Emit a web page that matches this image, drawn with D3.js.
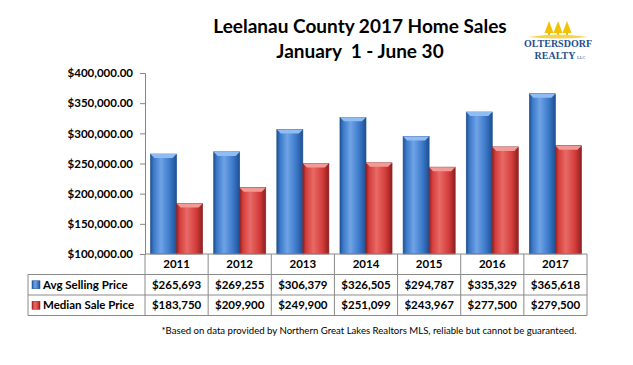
<!DOCTYPE html>
<html><head><meta charset="utf-8">
<script src="https://cdn.jsdelivr.net/npm/d3@7"></script>
<style>body{margin:0;background:#fff}svg{display:block}</style>
</head><body>
<svg id="c" width="633" height="365"></svg>
<script>
const years = ["2011","2012","2013","2014","2015","2016","2017"];
const avgSelling = [265693,269255,306379,326505,294787,335329,365618];
const medianSale = [183750,209900,249900,251099,243967,277500,279500];
const seriesNames = ["Avg Selling Price","Median Sale Price"];
const yTicks = [100000,150000,200000,250000,300000,350000,400000];
const titleLines = ["Leelanau County 2017 Home Sales","January  1 - June 30"];
const footnote = "*Based on data provided by Northern Great Lakes Realtors MLS, reliable but cannot be guaranteed.";

const svg = d3.select("#c");
const font = "Lato, 'Open Sans', sans-serif";
const L = 145, R = 587, T = 73, B = 254;
const x = d3.scaleBand().domain(years).range([L, R]).paddingInner(0.175).paddingOuter(0.0875);
const xb = d3.scaleBand().domain(years).range([L, R]);
const xs = d3.scaleBand().domain([0,1]).range([0, x.bandwidth()]);
const y = d3.scaleLinear().domain([100000,400000]).range([B, T]);

const defs = svg.append("defs");
const pal = [{base:"#3a78c8", dark:"#1f4f91", light:"#6fa3e6", top:"#8fbcf2"},
             {base:"#d43d3b", dark:"#8e2020", light:"#e86a66", top:"#f29a96"}];
pal.forEach((p,i)=>{
  const g = defs.append("linearGradient").attr("id","g"+i).attr("x1","0").attr("x2","1").attr("y1","0").attr("y2","0");
  g.append("stop").attr("offset","0").attr("stop-color",p.dark);
  g.append("stop").attr("offset","0.12").attr("stop-color",p.base);
  g.append("stop").attr("offset","0.4").attr("stop-color",p.light);
  g.append("stop").attr("offset","0.75").attr("stop-color",p.base);
  g.append("stop").attr("offset","1").attr("stop-color",p.dark);
});

// title
svg.selectAll(".title").data(titleLines).join("text")
  .attr("x", 360).attr("y",(d,i)=>33+i*25).attr("text-anchor","middle").attr("xml:space","preserve")
  .style("white-space","pre")
  .attr("font-family", font).attr("font-weight","bold").attr("font-size",19).attr("fill","#000").text(d=>d);

// logo
const logo = svg.append("g");
const lc = 558;
[lc-9,lc,lc+9].forEach((cx,i)=>{
  logo.append("path").attr("d",`M${cx},21 L${cx+4.5},33 L${cx-4.5},33 Z`).attr("fill","#f2c200");
  logo.append("rect").attr("x",cx-0.7).attr("y",33).attr("width",1.4).attr("height",3).attr("fill","#c99a00");
});
logo.append("path").attr("d",`M${lc-30},37 Q${lc},32 ${lc+30},37 Q${lc},40 ${lc-30},37 Z`).attr("fill","#f7d44a");
logo.append("text").attr("x",lc).attr("y",47).attr("text-anchor","middle").attr("font-family","'Liberation Serif', serif")
  .attr("font-weight","bold").attr("font-size",10).attr("textLength",68).attr("lengthAdjust","spacingAndGlyphs")
  .attr("fill","#1f4f91").text("OLTERSDORF");
logo.append("text").attr("x",lc-3).attr("y",58.5).attr("text-anchor","middle").attr("font-family","'Liberation Serif', serif")
  .attr("font-weight","bold").attr("font-size",10).attr("fill","#1f4f91").text("REALTY");
logo.append("text").attr("x",lc+19).attr("y",58.5).attr("text-anchor","start").attr("font-family","'Liberation Serif', serif")
  .attr("font-size",4.5).attr("fill","#1f4f91").text("LLC");

// y axis
const yAxis = svg.append("g").attr("transform",`translate(${L},0)`)
  .call(d3.axisLeft(y).tickValues(yTicks).tickSize(5).tickPadding(7).tickFormat(d=>"$"+d3.format(",.2f")(d)));
yAxis.select(".domain").attr("stroke","#868686");
yAxis.selectAll(".tick line").attr("stroke","#868686");
yAxis.selectAll("text").attr("font-family",font).attr("font-weight","bold").attr("font-size",11.5).attr("fill","#000");

// bars
const data = years.map((yr,i)=>({yr, vals:[avgSelling[i], medianSale[i]]}));
const grp = svg.selectAll(".grp").data(data).join("g").attr("transform",d=>`translate(${x(d.yr)},0)`);
grp.each(function(d){
  const g = d3.select(this);
  d.vals.forEach((v,s)=>{
    const bx = xs(s), bw = xs.bandwidth(), by = y(v), bh = B - y(v);
    g.append("rect").attr("x",bx).attr("y",by).attr("width",bw).attr("height",bh).attr("fill",`url(#g${s})`);
    g.append("rect").attr("x",bx).attr("y",by).attr("width",bw).attr("height",bh).attr("fill","none").attr("stroke",pal[s].dark).attr("stroke-width",0.6);
    const bev = 4;
    g.append("path").attr("d",`M${bx},${by} L${bx+bw},${by} L${bx+bw-bev},${by+bev} L${bx+bev},${by+bev} Z`).attr("fill",pal[s].top);
  });
});

// data table
const rowH = 20.5, tTop = B, legL = 28;
const tbl = svg.append("g").attr("fill","none").attr("stroke","#8a8a8a").attr("stroke-width",1);
xb.domain().forEach(yr=>{
  tbl.append("line").attr("x1",xb(yr)).attr("x2",xb(yr)).attr("y1",tTop).attr("y2",tTop+rowH*3);
});
tbl.append("line").attr("x1",R).attr("x2",R).attr("y1",tTop).attr("y2",tTop+rowH*3);
tbl.append("line").attr("x1",legL).attr("x2",legL).attr("y1",tTop+rowH).attr("y2",tTop+rowH*3);
[1,2,3].forEach(r=>{
  tbl.append("line").attr("x1",legL).attr("x2",R).attr("y1",tTop+rowH*r).attr("y2",tTop+rowH*r);
});
tbl.append("line").attr("x1",L).attr("x2",R).attr("y1",tTop).attr("y2",tTop);

svg.selectAll(".yr").data(years).join("text")
  .attr("x",d=>xb(d)+xb.bandwidth()/2).attr("y",tTop+rowH*0.5+4)
  .attr("text-anchor","middle").attr("font-family",font).attr("font-weight","bold").attr("font-size",11.5).text(d=>d);
[avgSelling, medianSale].forEach((arr,s)=>{
  svg.selectAll(".v"+s).data(arr).join("text")
    .attr("x",(d,i)=>xb(years[i])+xb.bandwidth()/2).attr("y",tTop+rowH*(s+1.5)+4)
    .attr("text-anchor","middle").attr("font-family",font).attr("font-weight","bold").attr("font-size",11.5)
    .text(d=>"$"+d3.format(",")(d));
  svg.append("rect").attr("x",legL+4).attr("y",tTop+rowH*(s+1.5)-4).attr("width",8).attr("height",8).attr("fill",`url(#g${s})`).attr("stroke",pal[s].dark).attr("stroke-width",0.5);
  svg.append("text").attr("x",legL+15).attr("y",tTop+rowH*(s+1.5)+4)
    .attr("font-family",font).attr("font-weight","bold").attr("font-size",11.5).text(seriesNames[s]);
});

// footnote
svg.append("text").attr("x",369).attr("y",334).attr("text-anchor","middle")
  .attr("font-family",font).attr("font-size",9.6).attr("fill","#000").text(footnote);
</script>
</body></html>
